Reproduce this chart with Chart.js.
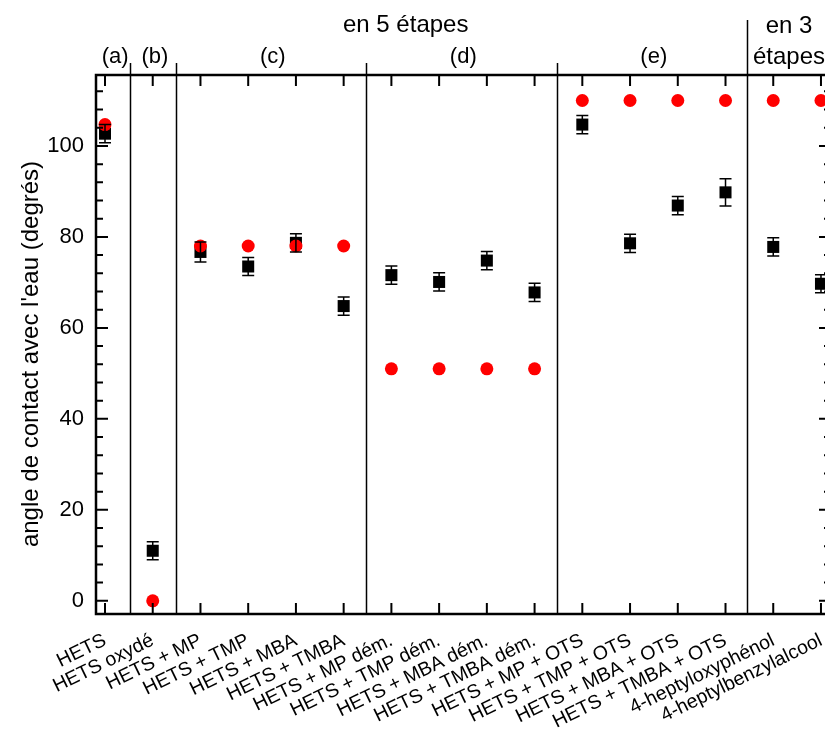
<!DOCTYPE html>
<html>
<head>
<meta charset="utf-8">
<script src="https://cdn.jsdelivr.net/npm/chart.js@4.4.0/dist/chart.umd.min.js"></script>
<style>
  html, body { margin: 0; padding: 0; background: #fff; overflow: hidden; }
</style>
</head>
<body>
<canvas id="c" width="845" height="729"></canvas>
<script>
// categories along x
const categories = ['HETS', 'HETS oxydé', 'HETS + MP', 'HETS + TMP', 'HETS + MBA', 'HETS + TMBA',
  'HETS + MP dém.', 'HETS + TMP dém.', 'HETS + MBA dém.', 'HETS + TMBA dém.',
  'HETS + MP + OTS', 'HETS + TMP + OTS', 'HETS + MBA + OTS', 'HETS + TMBA + OTS',
  '4-heptyloxyphénol', '4-heptylbenzylalcool'];
// black squares (measured) and their error
const squareVals = [102.7, 11, 76.7, 73.5, 78.7, 64.8, 71.6, 70.1, 74.8, 67.8, 104.7, 78.6, 86.9, 89.8, 77.8, 69.7];
const squareErr = [2, 2, 2.2, 2, 2, 2, 2, 2, 2, 2, 2, 2, 2, 3, 2, 2];
// red circles
const circleVals = [104.7, 0, 78, 78, 78, 78, 51, 51, 51, 51, 110, 110, 110, 110, 110, 110];
// y axis
const yTicks = [0, 20, 40, 60, 80, 100];
// section separators (in category units) and labels
const separators = [0.53, 1.48, 5.47, 9.46, 13.45];
const sectionLabels = ['(a)', '(b)', '(c)', '(d)', '(e)'];

const FONT = "'Liberation Sans', Arial, sans-serif";
Chart.defaults.font.family = FONT;
Chart.defaults.color = '#000';

const decor = {
  id: 'decor',
  afterDatasetsDraw(chart) {
    const { ctx, chartArea: a, scales: { x, y } } = chart;
    ctx.save();
    ctx.strokeStyle = '#000';
    ctx.fillStyle = '#000';

    // error bars on top
    ctx.lineWidth = 1.5;
    squareVals.forEach((v, i) => {
      const px = x.getPixelForValue(i);
      const lo = y.getPixelForValue(v - squareErr[i]);
      const hi = y.getPixelForValue(v + squareErr[i]);
      ctx.beginPath();
      ctx.moveTo(px, lo); ctx.lineTo(px, hi);
      ctx.moveTo(px - 6, lo); ctx.lineTo(px + 6, lo);
      ctx.moveTo(px - 6, hi); ctx.lineTo(px + 6, hi);
      ctx.stroke();
    });

    // separators
    ctx.lineWidth = 1.5;
    separators.forEach((s, k) => {
      const px = Math.round(x.getPixelForValue(s)) + 0.5;
      ctx.beginPath();
      ctx.moveTo(px, k === separators.length - 1 ? 20 : 63);
      ctx.lineTo(px, a.bottom);
      ctx.stroke();
    });

    // frame
    ctx.lineWidth = 2.5;
    ctx.strokeRect(a.left, a.top, a.right - a.left, a.bottom - a.top);

    // inward ticks
    ctx.lineWidth = 2;
    ctx.beginPath();
    categories.forEach((_, i) => {
      const px = x.getPixelForValue(i);
      ctx.moveTo(px, a.bottom); ctx.lineTo(px, a.bottom - 11);
      ctx.moveTo(px, a.top); ctx.lineTo(px, a.top + 11);
    });
    for (let v = 0; v <= 112; v += 4) {
      const py = y.getPixelForValue(v);
      const len = v % 20 === 0 ? 12 : 7;
      ctx.moveTo(a.left, py); ctx.lineTo(a.left + len, py);
      ctx.moveTo(a.right, py); ctx.lineTo(a.right - len, py);
    }
    ctx.stroke();

    // section labels
    ctx.textAlign = 'center';
    ctx.textBaseline = 'middle';
    ctx.font = '22px ' + FONT;
    const bounds = [a.left, ...separators.map(s => x.getPixelForValue(s))];
    sectionLabels.forEach((t, k) => {
      ctx.fillText(t, (bounds[k] + bounds[k + 1]) / 2 + 2, 57);
    });
    ctx.font = '24px ' + FONT;
    ctx.fillText('en 5 étapes', x.getPixelForValue(6.3), 25);
    const last = x.getPixelForValue(separators[separators.length - 1]);
    const mid3 = (last + a.right) / 2;
    ctx.fillText('en 3', mid3, 26);
    ctx.fillText('étapes', mid3, 57);

    // y title
    ctx.font = '24px ' + FONT;
    ctx.translate(31, 354);
    ctx.rotate(-Math.PI / 2);
    ctx.fillText("angle de contact avec l'eau (degrés)", 0, 0);
    ctx.restore();
  }
};

new Chart(document.getElementById('c'), {
  type: 'scatter',
  data: {
    datasets: [
      {
        label: 'cercles',
        data: circleVals.map((v, i) => ({ x: i, y: v })),
        pointStyle: 'circle',
        pointRadius: 6.5,
        pointBackgroundColor: '#ff0000',
        pointBorderWidth: 0,
        order: 0
      },
      {
        label: 'carrés',
        data: squareVals.map((v, i) => ({ x: i, y: v })),
        pointStyle: 'rect',
        pointRadius: 8.5,
        pointBackgroundColor: '#000',
        pointBorderWidth: 0,
        order: 1
      }
    ]
  },
  options: {
    responsive: false,
    animation: false,
    clip: false,
    layout: { padding: { left: 0, top: 75, right: 14, bottom: 0 } },
    plugins: { legend: { display: false }, tooltip: { enabled: false } },
    scales: {
      x: {
        type: 'linear',
        min: -0.1886,
        max: 15.21,
        grid: { display: false, drawTicks: false },
        border: { display: false },
        afterBuildTicks: s => { s.ticks = categories.map((_, i) => ({ value: i })); },
        afterFit: s => { s.height = 115; s.paddingLeft = 0; s.paddingRight = 0; },
        ticks: {
          autoSkip: false,
          minRotation: 26,
          maxRotation: 26,
          padding: 15,
          font: { size: 19.5 },
          callback: v => categories[v]
        }
      },
      y: {
        min: -2.9,
        max: 115.6,
        grid: { display: false, drawTicks: false },
        border: { display: false },
        afterBuildTicks: s => { s.ticks = yTicks.map(v => ({ value: v })); },
        afterFit: s => { s.width = 96; },
        ticks: { padding: 12, font: { size: 22 } }
      }
    }
  },
  plugins: [decor]
});
</script>
</body>
</html>
